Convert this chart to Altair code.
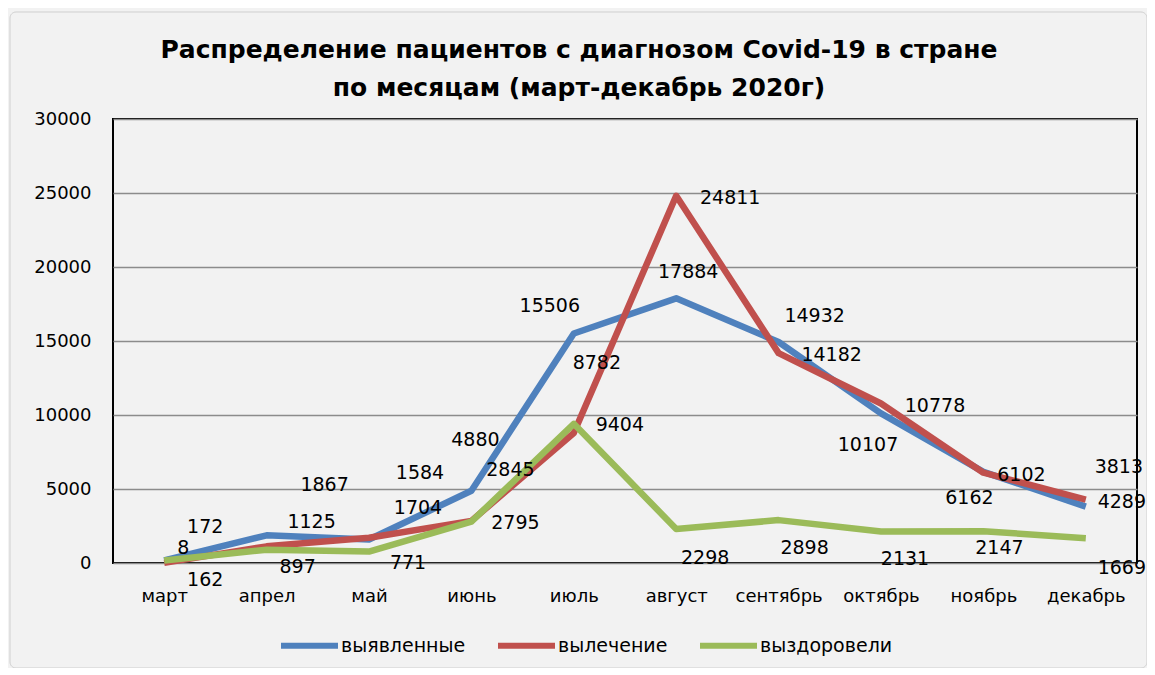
import altair as alt
import pandas as pd

months = ["март", "апрел", "май", "июнь", "июль", "август", "сентябрь", "октябрь", "ноябрь", "декабрь"]
detected = [172, 1867, 1584, 4880, 15506, 17884, 14932, 10107, 6162, 3813]
treated = [8, 1125, 1704, 2845, 8782, 24811, 14182, 10778, 6102, 4289]
recovered = [162, 897, 771, 2795, 9404, 2298, 2898, 2131, 2147, 1669]
series_names = ["выявленные", "вылечение", "выздоровели"]
colors = ["#4f81bd", "#c0504d", "#9bbb59"]
y_ticks = [0, 5000, 10000, 15000, 20000, 25000, 30000]
title_lines = ["Распределение пациентов с диагнозом Covid-19 в стране",
               "по месяцам (март-декабрь 2020г)"]

# layout: pixel nudges of each data label relative to its point (as placed in the reference)
label_nudge = {
    "выявленные": [(41, -33), (58, -50), (51, -67), (4, -51), (-24, -28),
                   (12, -26), (36, -26), (-13, 32), (-14, 26), (33, -40)],
    "вылечение": [(19, -15), (45, -24), (49, -30), (39, -51), (23, -70),
                  (54, 2), (53, 2), (54, 3), (38, 2), (36, 2)],
    "выздоровели": [(41, 19), (31, 17), (39, 11), (44, 1), (46, 1),
                    (29, 29), (26, 28), (24, 28), (16, 17), (36, 30)],
}

rows = []
for name, vals in zip(series_names, [detected, treated, recovered]):
    for m, v in zip(months, vals):
        rows.append({"month": m, "series": name, "value": v})
df = pd.DataFrame(rows)

FONT = "DejaVu Sans"

x_enc = alt.X("month:N", sort=months, title=None,
              axis=alt.Axis(labelAngle=0, ticks=False, domain=False, grid=False,
                            labelFont=FONT, labelFontSize=18, labelColor="black",
                            labelPadding=24))
y_enc = alt.Y("value:Q", title=None,
              scale=alt.Scale(domain=[0, 30000], nice=False),
              axis=alt.Axis(values=y_ticks, ticks=False, domain=False, grid=True,
                            gridColor="#8c8c8c", gridWidth=1.5, format="d",
                            labelFont=FONT, labelFontSize=18, labelColor="black",
                            labelPadding=22))

lines = alt.Chart(df).mark_line(strokeWidth=6.5, strokeJoin="round").encode(
    x=x_enc, y=y_enc,
    color=alt.Color("series:N", sort=series_names,
                    scale=alt.Scale(domain=series_names, range=colors),
                    legend=alt.Legend(title=None, orient="none", legendX=165, legendY=495,
                                      direction="horizontal", padding=0,
                                      symbolType="M-1,0H1", symbolSize=3249,
                                      symbolStrokeWidth=6, labelFont=FONT,
                                      labelFontSize=19, labelColor="black",
                                      labelOffset=0, columnPadding=20)),
    order=alt.Order("series_order:Q"),
).transform_calculate(
    series_order="indexof(['выявленные','вылечение','выздоровели'], datum.series)"
)

labels = []
for name in series_names:
    sub = df[df["series"] == name]
    for i, m in enumerate(months):
        dx, dy = label_nudge[name][i]
        labels.append(
            alt.Chart(sub[sub["month"] == m]).mark_text(
                dx=dx, dy=dy, font=FONT, fontSize=19, color="black"
            ).encode(x=x_enc, y=y_enc, text=alt.Text("value:Q", format="d"))
        )

title_df = pd.DataFrame({"line": title_lines, "idx": [0, 1]})
title_marks = []
for i, ypix in enumerate([-69, -31]):
    title_marks.append(
        alt.Chart(title_df[title_df["idx"] == i]).mark_text(
            font=FONT, fontSize=25, fontWeight="bold", color="black",
            align="center", baseline="middle"
        ).encode(x=alt.value(466), y=alt.value(ypix), text="line:N")
    )

border = alt.Chart(pd.DataFrame({"a": [0]})).mark_rect(
    fillOpacity=0, stroke="#cfcfcf", strokeWidth=1, cornerRadius=6
).encode(x=alt.value(-103), x2=alt.value(1034), y=alt.value(-107), y2=alt.value(549))

chart = alt.layer(lines, *labels, *title_marks, border).properties(
    width=1024, height=444,
    autosize=alt.AutoSizeParams(type="none"),
    padding={"left": 105, "top": 111, "right": 10, "bottom": 105},
).configure(background="#f2f2f2").configure_view(stroke="black", strokeWidth=2)

chart.save("out.html", embed_options={"renderer": "svg", "actions": False})
